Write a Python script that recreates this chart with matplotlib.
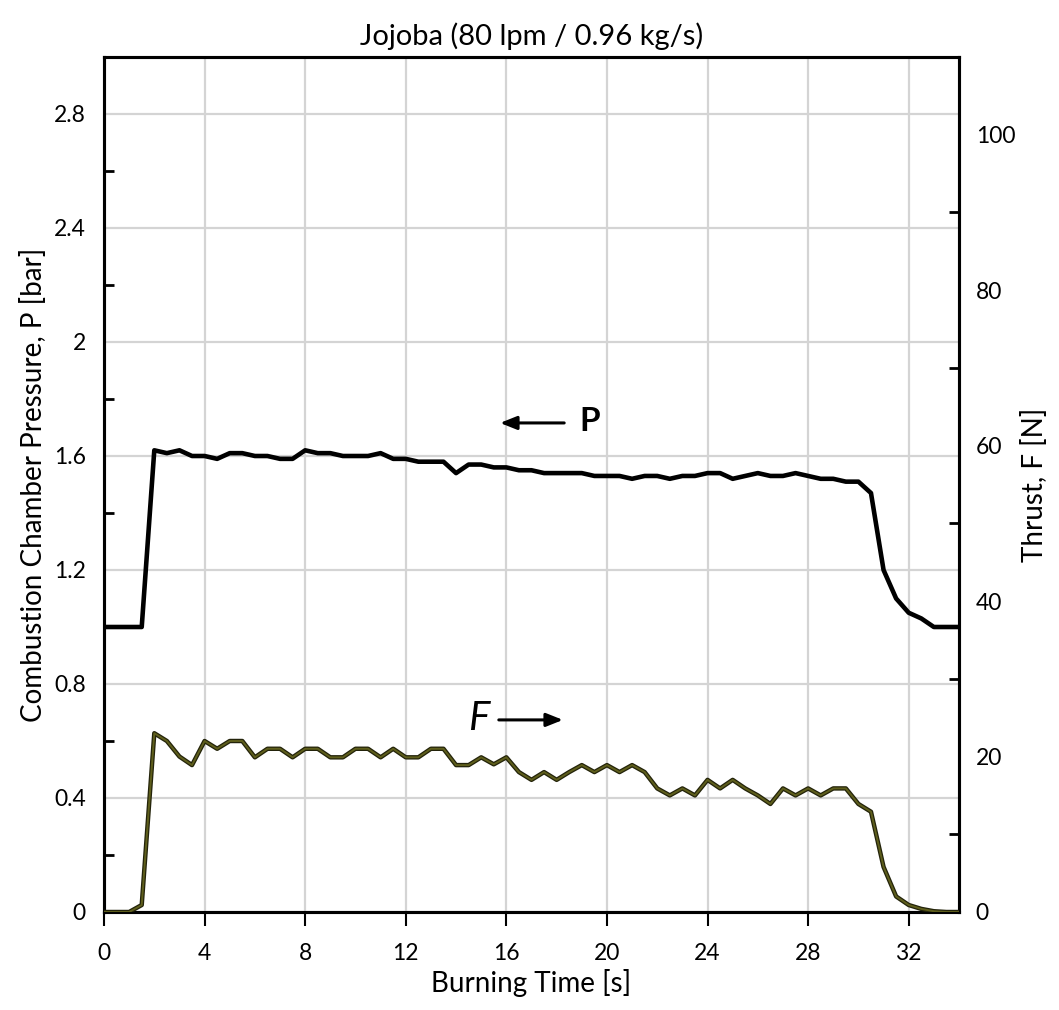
import matplotlib
matplotlib.use("Agg")
import matplotlib.pyplot as plt
import numpy as np

plt.rcParams['font.family'] = ['Lato', 'DejaVu Sans']

# Data (time step 0.5 s)
time_s = [i * 0.5 for i in range(69)]
pressure_bar = [
    1.00, 1.00, 1.00, 1.00, 1.62, 1.61, 1.62, 1.60, 1.60, 1.59,
    1.61, 1.61, 1.60, 1.60, 1.59, 1.59, 1.62, 1.61, 1.61, 1.60,
    1.60, 1.60, 1.61, 1.59, 1.59, 1.58, 1.58, 1.58, 1.54, 1.57,
    1.57, 1.56, 1.56, 1.55, 1.55, 1.54, 1.54, 1.54, 1.54, 1.53,
    1.53, 1.53, 1.52, 1.53, 1.53, 1.52, 1.53, 1.53, 1.54, 1.54,
    1.52, 1.53, 1.54, 1.53, 1.53, 1.54, 1.53, 1.52, 1.52, 1.51,
    1.51, 1.47, 1.20, 1.10, 1.05, 1.03, 1.00, 1.00, 1.00,
]
thrust_N = [
    0.0, 0.0, 0.0, 0.9, 23.0, 22.0, 20.0, 18.9, 22.0, 21.0,
    22.0, 22.0, 19.9, 21.0, 21.0, 19.9, 21.0, 21.0, 19.9, 19.9,
    21.0, 21.0, 19.9, 21.0, 19.9, 19.9, 21.0, 21.0, 18.9, 18.9,
    19.9, 19.0, 19.9, 18.0, 17.0, 18.0, 17.0, 18.0, 18.9, 18.0,
    18.9, 18.0, 18.9, 18.0, 15.9, 15.0, 15.9, 15.0, 17.0, 15.9,
    17.0, 15.9, 15.0, 13.9, 15.9, 15.0, 15.9, 15.0, 15.9, 15.9,
    13.9, 12.9, 5.8, 2.0, 0.9, 0.4, 0.1, 0.0, 0.0,
]
title = "Jojoba (80 lpm / 0.96 kg/s)"
xlabel = "Burning Time [s]"
ylabel_left = "Combustion Chamber Pressure, P [bar]"
ylabel_right = "Thrust, F [N]"
x_ticks = [0, 4, 8, 12, 16, 20, 24, 28, 32]
left_ticks = [0, 0.4, 0.8, 1.2, 1.6, 2.0, 2.4, 2.8]
left_ticklabels = ["0", "0.4", "0.8", "1.2", "1.6", "2", "2.4", "2.8"]
right_ticks = [0, 20, 40, 60, 80, 100]

fig = plt.figure(figsize=(10.59, 10.10), dpi=100)
ax = fig.add_axes([104 / 1059, 98 / 1010, 855 / 1059, 855 / 1010])
ax2 = ax.twinx()

ax.set_xlim(0, 34)
ax.set_ylim(0, 3.0)
ax2.set_ylim(0, 110)

ax.set_xticks(x_ticks)
ax.set_yticks(left_ticks)
ax.set_yticklabels(left_ticklabels)
ax.set_yticks(np.arange(0.2, 3.0, 0.4), minor=True)
ax2.set_yticks(right_ticks)
ax2.set_yticks(np.arange(10, 110, 20), minor=True)

ax.grid(True, which='major', color='#d4d4d4', linewidth=1.6)
ax.set_axisbelow(True)

ax.plot(time_s, pressure_bar, color='black', linewidth=3.3, zorder=3)
ax2.plot(time_s, thrust_N, color='#23230a', linewidth=3.2, zorder=3)
ax2.plot(time_s, thrust_N, color='#5e5e1c', linewidth=1.4, zorder=4)

for a in (ax, ax2):
    for s in a.spines.values():
        s.set_linewidth(2.2)
        s.set_color('black')

ax.tick_params(axis='x', which='major', direction='out', length=10, width=1.5,
               labelsize=16.5, pad=12)
ax.tick_params(axis='y', which='major', direction='out', length=0, labelsize=16.5, pad=13)
ax.tick_params(axis='y', which='minor', direction='in', length=7, width=2)
ax2.tick_params(axis='y', which='major', direction='out', length=0, labelsize=16.5, pad=12)
ax2.tick_params(axis='y', which='minor', direction='in', length=7, width=2)

ax.set_title(title, fontsize=21, pad=9)
ax.set_xlabel(xlabel, fontsize=20, labelpad=4)
ax.set_ylabel(ylabel_left, fontsize=20, labelpad=5)
ax2.set_ylabel(ylabel_right, fontsize=20, labelpad=4)

# Annotations
ax.annotate("", xy=(15.75, 1.716), xytext=(18.3, 1.716),
            arrowprops=dict(arrowstyle='-|>,head_length=1.0,head_width=0.4',
                            color='black', lw=2.2, shrinkA=0, shrinkB=0))
ax.text(19.3, 1.72, "P", fontsize=24, fontweight='bold', ha='center', va='center')
ax.annotate("", xy=(18.25, 0.674), xytext=(15.7, 0.674),
            arrowprops=dict(arrowstyle='-|>,head_length=1.0,head_width=0.4',
                            color='black', lw=2.2, shrinkA=0, shrinkB=0))
ax.text(14.9, 0.68, "F", fontsize=29, fontstyle='italic', ha='center', va='center')

fig.savefig("out.png", dpi=100)
